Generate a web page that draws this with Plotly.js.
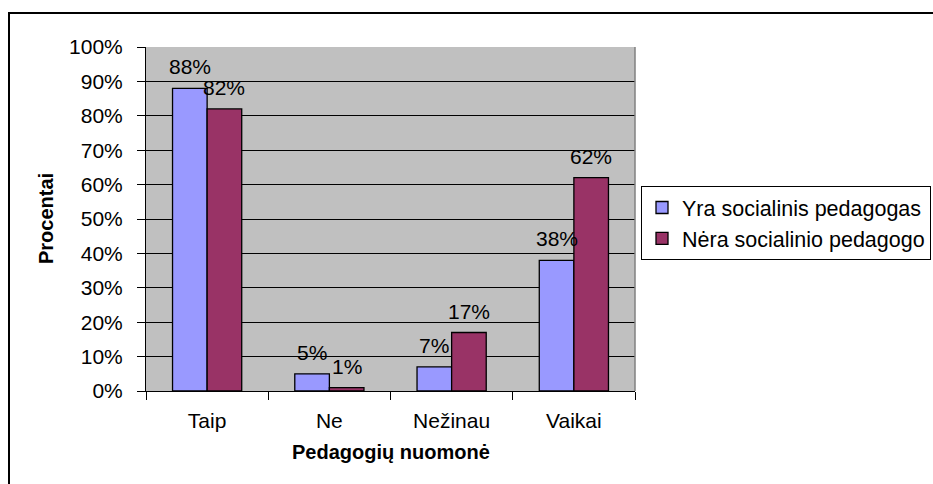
<!DOCTYPE html>
<html>
<head>
<meta charset="utf-8">
<script src="https://cdn.plot.ly/plotly-3.0.1.min.js"></script>
<style>html,body{margin:0;padding:0;background:#fff;}#chart{width:933px;height:484px;}</style>
</head>
<body>
<div id="chart"></div>
<script>
const categories = ["Taip", "Ne", "Nežinau", "Vaikai"];
const seriesNames = ["Yra socialinis pedagogas", "Nėra socialinio pedagogo"];
const yraValues = [88, 5, 7, 38];
const neraValues = [82, 1, 17, 62];
const yTickValues = [0, 10, 20, 30, 40, 50, 60, 70, 80, 90, 100];
const xTitle = "Pedagogių nuomonė";
const yTitle = "Procentai";

const FONT = "Liberation Sans, Arial, sans-serif";
const FS = 21;
const colors = ["#9999FF", "#993366"];
const seriesValues = [yraValues, neraValues];

const traces = seriesValues.map((vals, s) => ({
  type: "bar",
  name: seriesNames[s],
  x: categories,
  y: vals,
  marker: { color: colors[s], line: { color: "#000", width: 1.3 } },
  hoverinfo: "skip"
}));

const W = 933, H = 484;
const L = 146, R = 298, T = 47, B = 93;
const plotW = W - L - R, plotH = H - T - B;
const bargap = 0.434;
const barW = plotW / categories.length * (1 - bargap) / 2;

const annotations = [];
seriesValues.forEach((vals, s) => {
  vals.forEach((v, i) => {
    annotations.push({
      x: categories[i], y: v, xref: "x", yref: "y",
      text: v + "%", showarrow: false,
      xanchor: "center", yanchor: "bottom",
      xshift: (s === 0 ? -1 : 1) * barW / 2, yshift: 8,
      font: { family: FONT, size: FS, color: "#000" }
    });
  });
});
annotations.push({
  xref: "paper", yref: "paper", x: (46 - L) / plotW, y: 0.5,
  text: "<b>" + yTitle + "</b>", textangle: -90, showarrow: false,
  xanchor: "center", yanchor: "middle",
  font: { family: FONT, size: FS - 1, color: "#000" }
});
annotations.push({
  xref: "paper", yref: "paper", x: 0.5, y: (T + plotH - 452) / plotH,
  text: "<b>" + xTitle + "</b>", showarrow: false,
  xanchor: "center", yanchor: "middle",
  font: { family: FONT, size: FS - 1, color: "#000" }
});

const layout = {
  width: W, height: H,
  margin: { l: L, r: R, t: T, b: B, pad: 0, autoexpand: false },
  paper_bgcolor: "#fff",
  plot_bgcolor: "#C0C0C0",
  barmode: "group",
  bargap: bargap,
  bargroupgap: 0,
  font: { family: FONT, size: FS, color: "#000" },
  showlegend: true,
  legend: {
    x: (641 - L) / plotW, xanchor: "left",
    y: (T + plotH - 186) / plotH, yanchor: "top",
    bgcolor: "#fff", bordercolor: "#000", borderwidth: 1,
    font: { family: FONT, size: 21.5, color: "#000" },
    tracegroupgap: 0
  },
  xaxis: {
    type: "category",
    showline: true, linecolor: "#000", linewidth: 1,
    ticks: "outside", ticklen: 8, tickcolor: "#000", tickwidth: 1,
    tickson: "boundaries",
    ticklabelstandoff: 11,
    showgrid: false, zeroline: false,
    tickfont: { family: FONT, size: FS, color: "#000" },
    automargin: false, fixedrange: true
  },
  yaxis: {
    range: [0, 100],
    tickvals: yTickValues,
    ticktext: yTickValues.map(v => v + "%"),
    showline: true, linecolor: "#000", linewidth: 1,
    ticks: "outside", ticklen: 8, tickcolor: "#000", tickwidth: 1,
    ticklabelstandoff: 10,
    showgrid: true, gridcolor: "#000", gridwidth: 1,
    zeroline: false,
    tickfont: { family: FONT, size: FS, color: "#000" },
    automargin: false, fixedrange: true
  },
  shapes: [
    { type: "rect", xref: "paper", yref: "paper",
      x0: (9 - L) / plotW, x1: 2.5, y0: -2, y1: (T + plotH - 13) / plotH,
      line: { color: "#000", width: 2 }, fillcolor: "rgba(0,0,0,0)", layer: "below" },
    { type: "line", xref: "paper", yref: "paper", x0: 1, x1: 1, y0: 0, y1: 1,
      line: { color: "#808080", width: 1.5 }, layer: "above" }
  ],
  annotations: annotations
};

Plotly.newPlot("chart", traces, layout, { staticPlot: true, displayModeBar: false });
</script>
</body>
</html>
